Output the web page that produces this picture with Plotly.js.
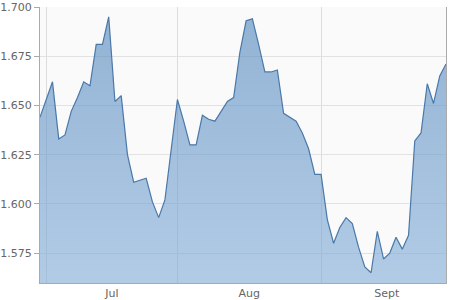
<!DOCTYPE html>
<html>
<head>
<meta charset="utf-8">
<script src="https://cdn.plot.ly/plotly-3.0.1.min.js"></script>
<style>html,body{margin:0;padding:0;background:#fff;}#chart{width:450px;height:300px;}</style>
</head>
<body>
<div id="chart"></div>
<script>
// Weekday dates (Jun 30 – Sep 29, 2011)
const dates = [
  '2011-06-30',
  '2011-07-01','2011-07-04','2011-07-05','2011-07-06','2011-07-07','2011-07-08',
  '2011-07-11','2011-07-12','2011-07-13','2011-07-14','2011-07-15',
  '2011-07-18','2011-07-19','2011-07-20','2011-07-21','2011-07-22',
  '2011-07-25','2011-07-26','2011-07-27','2011-07-28','2011-07-29',
  '2011-08-01','2011-08-02','2011-08-03','2011-08-04','2011-08-05',
  '2011-08-08','2011-08-09','2011-08-10','2011-08-11','2011-08-12',
  '2011-08-15','2011-08-16','2011-08-17','2011-08-18','2011-08-19',
  '2011-08-22','2011-08-23','2011-08-24','2011-08-25','2011-08-26',
  '2011-08-29','2011-08-30','2011-08-31',
  '2011-09-01','2011-09-02','2011-09-05','2011-09-06','2011-09-07','2011-09-08','2011-09-09',
  '2011-09-12','2011-09-13','2011-09-14','2011-09-15','2011-09-16',
  '2011-09-19','2011-09-20','2011-09-21','2011-09-22','2011-09-23',
  '2011-09-26','2011-09-27','2011-09-28','2011-09-29'
];
const values = [
  1.644,
  1.653, 1.662, 1.633, 1.635, 1.647, 1.654,
  1.662, 1.660, 1.681, 1.681, 1.695,
  1.652, 1.655, 1.625, 1.611, 1.612,
  1.613, 1.601, 1.593, 1.602, 1.628,
  1.653, 1.642, 1.630, 1.630, 1.645,
  1.643, 1.642, 1.647, 1.652, 1.654,
  1.677, 1.693, 1.694, 1.681, 1.667,
  1.667, 1.668, 1.646, 1.644, 1.642,
  1.636, 1.628, 1.615,
  1.615, 1.592, 1.580, 1.588, 1.593, 1.590, 1.578,
  1.568, 1.565, 1.586, 1.572, 1.575,
  1.583, 1.577, 1.584, 1.632, 1.636,
  1.661, 1.651, 1.665, 1.671
];
const monthStarts = ['2011-07-01', '2011-08-01', '2011-09-01'];
const monthLabels = ['Jul', 'Aug', 'Sept'];
const yTicks = [1.575, 1.600, 1.625, 1.650, 1.675, 1.700];

const xs = dates.map((d, i) => i);
const gridIdx = monthStarts.map(m => dates.indexOf(m));
const ends = gridIdx.slice(1).concat([dates.length]);
const labelPos = gridIdx.map((g, i) => (g + ends[i]) / 2);

const trace = {
  x: xs, y: values, type: 'scatter', mode: 'lines',
  line: {color: '#4a78a8', width: 1.2},
  fill: 'tozeroy',
  fillgradient: {type: 'vertical', start: 1.5598, stop: 1.700,
    colorscale: [[0, 'rgba(133,175,217,0.62)'], [1, 'rgba(82,134,188,0.62)']]},
  hoverinfo: 'skip'
};

const layout = {
  width: 450, height: 300,
  margin: {l: 40, r: 4.3, t: 6.7, b: 16.7},
  paper_bgcolor: '#ffffff', plot_bgcolor: '#fafafa',
  showlegend: false,
  font: {family: 'DejaVu Sans, Verdana, sans-serif', size: 11, color: '#666'},
  xaxis: {
    range: [0, dates.length - 1], fixedrange: true,
    tickmode: 'array', tickvals: labelPos, ticktext: monthLabels,
    showgrid: false, zeroline: false, ticks: '',
    showline: true, linecolor: '#aaa', linewidth: 1,
    tickfont: {size: 11, color: '#666'},
    minor: {tickmode: 'array', tickvals: gridIdx, showgrid: true, gridcolor: '#dcdcdc', gridwidth: 1, ticks: ''}
  },
  yaxis: {
    range: [1.5598, 1.700], fixedrange: true,
    tickmode: 'array', tickvals: yTicks, ticktext: yTicks.map(v => v.toFixed(3)),
    showgrid: true, gridcolor: '#e2e2e2', gridwidth: 1, zeroline: false,
    ticks: 'outside', ticklen: 5, tickcolor: '#aaa',
    showline: true, mirror: true, linecolor: '#aaa', linewidth: 1,
    tickfont: {size: 11, color: '#666'}
  }
};

Plotly.newPlot('chart', [trace], layout, {staticPlot: true, displayModeBar: false});
</script>
</body>
</html>
